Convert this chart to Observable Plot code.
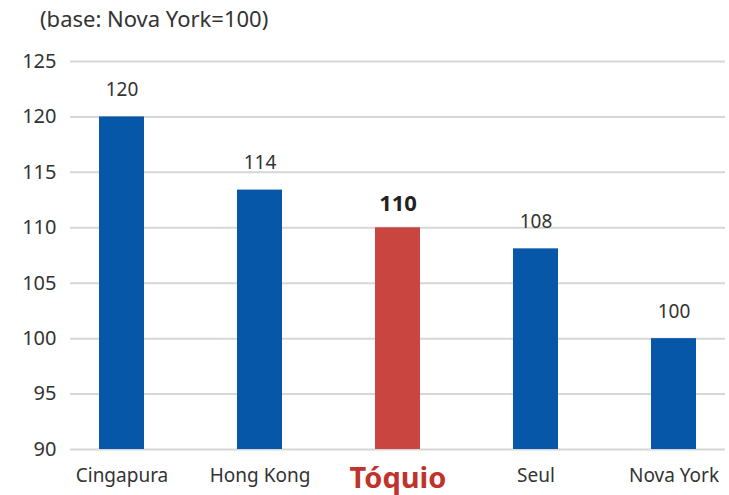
<!DOCTYPE html>
<html>
<head>
<meta charset="utf-8">
<script src="https://cdn.jsdelivr.net/npm/d3@7"></script>
<script src="https://cdn.jsdelivr.net/npm/@observablehq/plot@0.6"></script>
<style>
  html, body { margin: 0; padding: 0; background: #fff; }
  body { width: 729px; height: 495px; overflow: hidden; font-family: "Noto Sans", "Open Sans", sans-serif; }
  #title { height: 36px; line-height: 36px; padding-left: 40px; font-size: 22px; color: #333; }
</style>
</head>
<body>
<div id="title">(base: Nova York=100)</div>
<div id="chart"></div>
<script>
const cities = ["Cingapura", "Hong Kong", "Tóquio", "Seul", "Nova York"];
const values = [120, 113.4, 110, 108.1, 100];
const valueLabels = ["120", "114", "110", "108", "100"];
const highlight = "Tóquio";
const yTicks = [90, 95, 100, 105, 110, 115, 120, 125];

const data = cities.map((c, i) => ({city: c, value: values[i], label: valueLabels[i]}));
const blue = "#0757a8";
const red = "#c8463f";

const chart = Plot.plot({
  width: 729,
  height: 459,
  marginLeft: 70,
  marginRight: 4,
  marginTop: 25,
  marginBottom: 46,
  style: {fontFamily: "'Noto Sans', 'Open Sans', sans-serif", fontSize: "19px", color: "#333", background: "#fff", overflow: "visible"},
  x: {domain: cities, paddingInner: 0.674, paddingOuter: 0.21, label: null},
  y: {domain: [90, 125], ticks: yTicks, label: null},
  marks: [
    Plot.ruleY(yTicks, {stroke: "#d6d6d6", strokeWidth: 2}),
    Plot.barY(data, {x: "city", y1: 90, y2: "value", fill: d => d.city === highlight ? red : blue}),
    Plot.text(data.filter(d => d.city !== highlight), {x: "city", y: "value", text: "label", dy: -27, fill: "#333", fontSize: 19}),
    Plot.text(data.filter(d => d.city === highlight), {x: "city", y: "value", text: "label", dy: -24, fill: "#222", fontSize: 22, fontWeight: "bold"}),
    Plot.axisY({ticks: yTicks, tickSize: 0, tickPadding: 14, fontSize: 20, label: null}),
    Plot.axisX({tickSize: 0, tickPadding: 19, fontSize: 19, label: null})
  ]
});

d3.select(chart).selectAll("g[aria-label='x-axis tick label'] text")
  .filter(function() { return this.textContent === highlight; })
  .attr("fill", "#c0322c")
  .style("font-size", "29px")
  .style("font-weight", "bold")
  .attr("y", "19")
  .attr("dy", null);

document.getElementById("chart").appendChild(chart);
</script>
</body>
</html>
